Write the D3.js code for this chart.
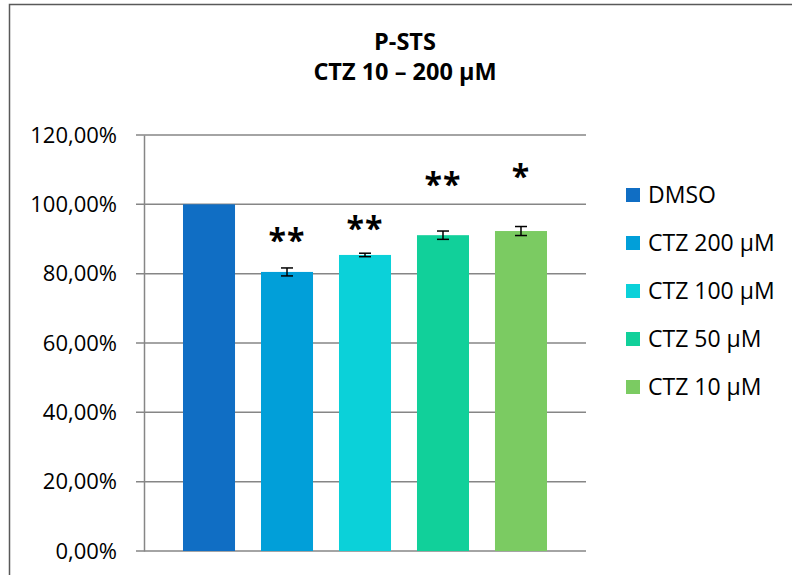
<!DOCTYPE html>
<html>
<head>
<meta charset="utf-8">
<script src="https://cdn.jsdelivr.net/npm/d3@7"></script>
<style>
  body { margin: 0; background: #fff; }
  text { font-family: "Open Sans", "Noto Sans", sans-serif; fill: #000; }
</style>
</head>
<body>
<div id="chart"></div>
<script>
// data
const categories = ['DMSO', 'CTZ 200 µM', 'CTZ 100 µM', 'CTZ 50 µM', 'CTZ 10 µM'];
const values = [100, 80.5, 85.4, 91.1, 92.3];
const errors = [0, 1.15, 0.5, 1.2, 1.3];
const sigLabels = ['', '**', '**', '**', '*'];
const sigLevels = [0, 91.1, 94.6, 107.3, 109.6];
const colors = ['#106ec4', '#019fd9', '#0bd1d9', '#11d09a', '#7bcb62'];
const yTicks = [0, 20, 40, 60, 80, 100, 120];
const titleLines = ['P-STS', 'CTZ 10 – 200 µM'];

const width = 792, height = 575;
const margin = { left: 144, right: 206, top: 135, bottom: 24 };

const svg = d3.select('#chart')
  .append('svg')
    .attr('width', width)
    .attr('height', height);

// chart area frame
svg.append('rect')
  .attr('x', 9.5).attr('y', 4.5)
  .attr('width', 800).attr('height', 600)
  .attr('fill', '#fff')
  .attr('stroke', '#595959')
  .attr('stroke-width', 1.5);

const x = d3.scaleBand()
  .domain(categories)
  .range([margin.left, width - margin.right])
  .paddingInner(0.333)
  .paddingOuter(0.5);

const y = d3.scaleLinear()
  .domain([0, 120])
  .range([height - margin.bottom, margin.top]);

// gridlines
svg.append('g')
  .selectAll('line')
  .data(yTicks)
  .enter()
  .append('line')
    .attr('x1', margin.left - 8)
    .attr('x2', width - margin.right)
    .attr('y1', d => y(d))
    .attr('y2', d => y(d))
    .attr('stroke', '#868686')
    .attr('stroke-width', 1.5);

// y axis
const yAxis = d3.axisLeft(y)
  .tickValues(yTicks)
  .tickSize(0)
  .tickPadding(27)
  .tickFormat(d => d3.format('.2f')(d).replace('.', ',') + '%');

svg.append('g')
  .attr('transform', 'translate(' + margin.left + ',0)')
  .call(yAxis)
  .call(g => g.select('.domain').attr('stroke', '#868686').attr('stroke-width', 1.5))
  .selectAll('text')
    .style('font-size', '22px')
    .attr('fill', '#000');

// bars
svg.append('g')
  .selectAll('rect')
  .data(categories)
  .enter()
  .append('rect')
    .attr('x', d => x(d))
    .attr('width', x.bandwidth())
    .attr('y', (d, i) => y(values[i]))
    .attr('height', (d, i) => y(0) - y(values[i]))
    .attr('fill', (d, i) => colors[i]);

// error bars
const errGroup = svg.append('g')
  .attr('stroke', '#000')
  .attr('stroke-width', 1.5);

categories.forEach((c, i) => {
  if (!errors[i]) { return; }
  const cx = x(c) + x.bandwidth() / 2;
  const top = y(values[i] + errors[i]);
  const bot = y(values[i] - errors[i]);
  errGroup.append('line').attr('x1', cx).attr('x2', cx).attr('y1', top).attr('y2', bot);
  errGroup.append('line').attr('x1', cx - 6).attr('x2', cx + 6).attr('y1', top).attr('y2', top);
  errGroup.append('line').attr('x1', cx - 6).attr('x2', cx + 6).attr('y1', bot).attr('y2', bot);
});

// significance marks
svg.append('g')
  .selectAll('text')
  .data(categories)
  .enter()
  .append('text')
    .attr('x', d => x(d) + x.bandwidth() / 2)
    .attr('y', (d, i) => y(sigLevels[i]) + 17)
    .attr('text-anchor', 'middle')
    .style('font-size', '32px')
    .style('font-weight', 'bold')
    .style('letter-spacing', '1px')
    .text((d, i) => sigLabels[i]);

// title
svg.append('g')
  .selectAll('text')
  .data(titleLines)
  .enter()
  .append('text')
    .attr('x', 405)
    .attr('y', (d, i) => 50 + i * 30)
    .attr('text-anchor', 'middle')
    .style('font-size', '23.5px')
    .style('font-weight', 'bold')
    .text(d => d);

// legend
const legend = svg.append('g')
  .selectAll('g')
  .data(categories)
  .enter()
  .append('g')
    .attr('transform', (d, i) => 'translate(626,' + (195 + i * 48) + ')');

legend.append('rect')
  .attr('x', 0).attr('y', -7)
  .attr('width', 14).attr('height', 14)
  .attr('fill', (d, i) => colors[i]);

legend.append('text')
  .attr('x', 22)
  .attr('dy', '0.35em')
  .style('font-size', '23px')
  .text(d => d);
</script>
</body>
</html>
